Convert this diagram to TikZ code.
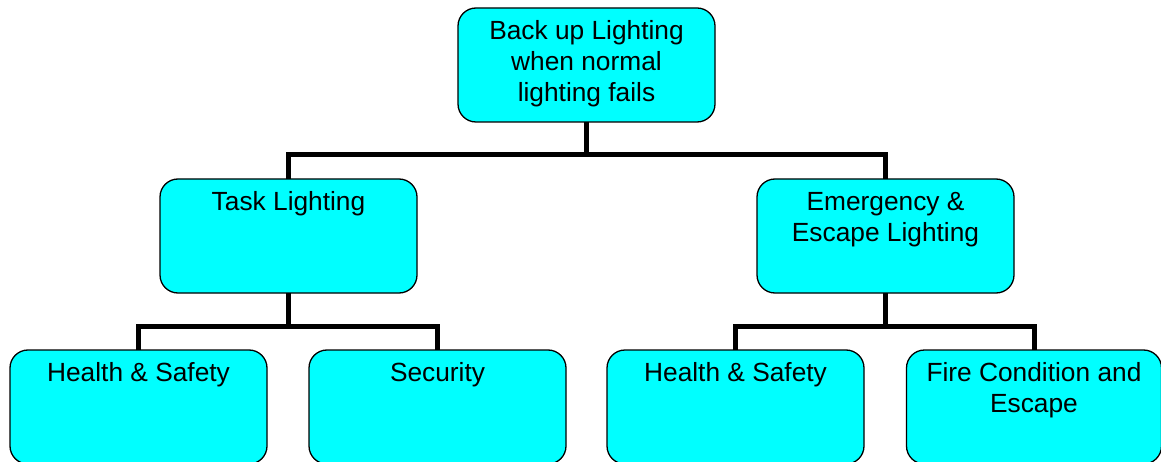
\documentclass[tikz,border=0pt]{standalone}
\usepackage{fontspec}
\setmainfont{Liberation Sans}
\definecolor{boxcyan}{HTML}{00FFFF}
\tikzset{
  box/.style={draw=black, line width=1.3pt, fill=boxcyan, rounded corners=18pt,
              inner sep=0pt, outer sep=0pt},
  conn/.style={draw=black, line width=5pt, line join=miter},
}
% box content: text hangs from the top edge, first baseline 31.5pt down
\newcommand{\boxtxt}[2][257pt]{\parbox[c][114pt][t]{#1}{\centering
  \fontsize{26.3pt}{31pt}\selectfont\rule{0pt}{31.5pt}#2\par}}
\begin{document}
\begin{tikzpicture}[x=1pt, y=-1pt]
\useasboundingbox (0,0) rectangle (1161,462);
\clip (0,0) rectangle (1161,462);

% tree nodes
\node[box] (top)   at (586.5,65)  {\boxtxt{Back up Lighting\\when normal\\lighting fails}};
\node[box] (task)  at (288.5,236) {\boxtxt{Task Lighting}};
\node[box] (emerg) at (885.5,236) {\boxtxt{Emergency \&\\Escape Lighting}};
\node[box] (hs1)   at (138.5,407) {\boxtxt{Health \& Safety}};
\node[box] (sec)   at (437.5,407) {\boxtxt{Security}};
\node[box] (hs2)   at (735.5,407) {\boxtxt{Health \& Safety}};
\node[box] (fire)  at (1034,407)  {\boxtxt[255pt]{Fire Condition and\\Escape}};

% junctions of the connectors
\coordinate (j1) at (586.5,155);
\coordinate (j2) at (288.5,326);
\coordinate (j3) at (885.5,326);

% connectors
\draw[conn] (top.south) -- (j1);
\draw[conn] (task.north) |- (j1) -| (emerg.north);
\draw[conn] (task.south) -- (j2);
\draw[conn] (hs1.north) |- (j2) -| (sec.north);
\draw[conn] (emerg.south) -- (j3);
\draw[conn] (hs2.north) |- (j3) -| (fire.north);
\end{tikzpicture}
\end{document}
